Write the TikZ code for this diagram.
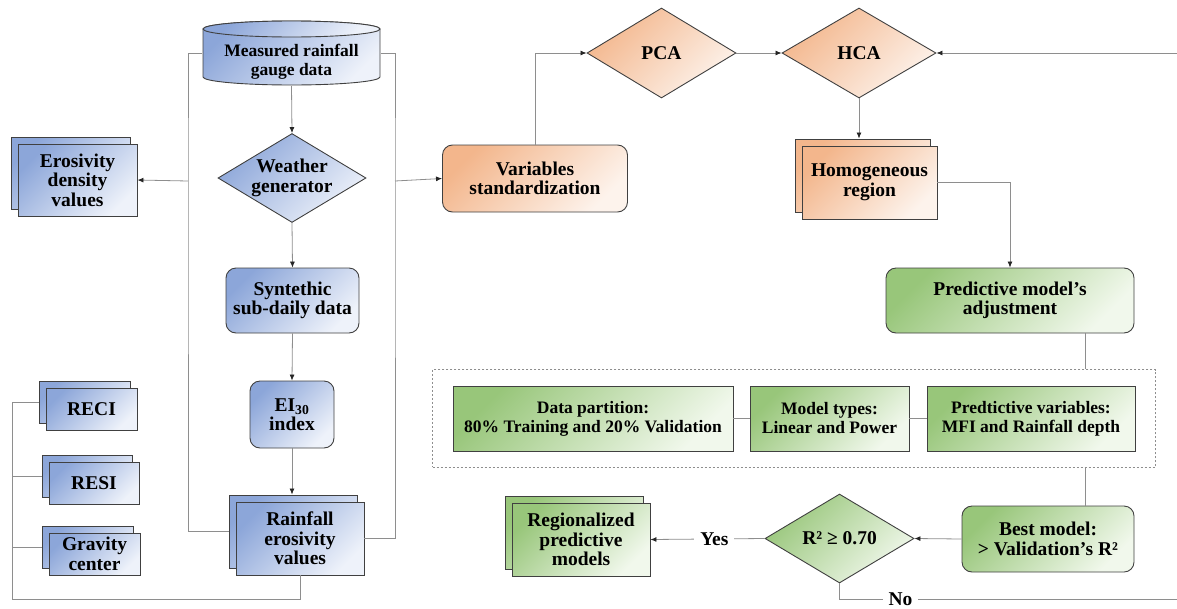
\documentclass[tikz,border=0pt]{standalone}
\usepackage{fontspec}
\setmainfont{Liberation Serif}
\usetikzlibrary{shapes.geometric,arrows.meta,shadows,fit}

\definecolor{edge}{HTML}{404040}
\definecolor{linkgray}{HTML}{8E8E8E}
\definecolor{blueA}{HTML}{8CA6D9}
\definecolor{blueB}{HTML}{EEF2FA}
\definecolor{orangeA}{HTML}{F3B68C}
\definecolor{orangeB}{HTML}{FDF3EC}
\definecolor{greenA}{HTML}{98C67A}
\definecolor{greenB}{HTML}{F1F8EC}

\tikzset{
  txt/.style={font=\fontsize{19.5}{19.5}\selectfont\bfseries, align=center, inner sep=0pt},
  small/.style={font=\fontsize{17.5}{19}\selectfont\bfseries},
  blk/.style={txt, draw=edge, line width=0.9pt},
  blues/.style={top color=blueA, bottom color=blueB, shading angle=45},
  oranges/.style={top color=orangeA, bottom color=orangeB, shading angle=45},
  greens/.style={top color=greenA, bottom color=greenB, shading angle=45},
  twin/.style={general shadow={shadow xshift=-7pt, shadow yshift=7pt, draw=edge, line width=0.9pt, #1}},
  drum/.style={path picture={
    \path[blues, draw=edge, line width=0.9pt]
      ([shift={(1,9)}]path picture bounding box.north west) -- ([shift={(1,-9)}]path picture bounding box.south west)
      arc[start angle=180, end angle=360, x radius=88.5pt, y radius=8pt]
      -- ([shift={(-1,9)}]path picture bounding box.north east)
      arc[start angle=0, end angle=180, x radius=88.5pt, y radius=8pt] -- cycle;
    \path[blues, draw=edge, line width=0.9pt] ([shift={(0,9)}]path picture bounding box.north) ellipse[x radius=88.5pt, y radius=8pt];
  }},
  link/.style={draw=linkgray, line width=0.8pt},
  arr/.style={link, -{Latex[length=6pt, width=5pt, color=black!85]}},
  lbl/.style={txt, fill=white, inner xsep=6pt}
}

\begin{document}
\begin{tikzpicture}[x=1pt,y=-1pt]
  \useasboundingbox (0,0) rectangle (1177,608);

  % rainfall data
  \node[txt, small, drum, minimum width=179, minimum height=66] (gauge) at (291.5,53) {\rule{0pt}{30pt}Measured rainfall\\gauge data};
  \node[blk, blues, diamond, aspect=1.66, minimum width=148, minimum height=89] (wgen) at (292,178) {Weather\\generator};
  \node[blk, blues, rounded corners=10, minimum width=133, minimum height=65] (synt) at (292.5,300.5) {Syntethic\\sub-daily data};
  \node[blk, blues, rounded corners=10, minimum width=84, minimum height=67] (ei) at (292,414.5) {EI\textsubscript{30}\\index};
  \node[blk, blues, twin=blues, minimum width=128, minimum height=73] (rain) at (300,538.5) {Rainfall\\erosivity\\values};
  \node[blk, blues, twin=blues, minimum width=119, minimum height=72] (eros) at (77.5,180) {Erosivity\\density\\values};
  \node[blk, blues, twin=blues, minimum width=91, minimum height=42] (reci) at (91.5,409) {RECI};
  \node[blk, blues, twin=blues, minimum width=90, minimum height=42] (resi) at (94,483) {RESI};
  \node[blk, blues, twin=blues, minimum width=91, minimum height=42] (grav) at (94.5,554) {Gravity\\center};

  % regionalization
  \node[blk, oranges, rounded corners=10, minimum width=185, minimum height=67] (stdz) at (535,178.5) {Variables\\standardization};
  \node[blk, oranges, diamond, aspect=1.66, minimum width=149, minimum height=90] (pca) at (661.5,53) {PCA};
  \node[blk, oranges, diamond, aspect=1.71, minimum width=154, minimum height=90] (hca) at (859,53) {HCA};
  \node[blk, oranges, twin=oranges, minimum width=135, minimum height=73] (homog) at (869.5,182.5) {Homogeneous\\region};

  % predictive models
  \node[blk, greens, rounded corners=10, minimum width=248, minimum height=65] (adjust) at (1010,300.5) {Predictive model's\\adjustment};
  \node[blk, greens, small, minimum width=280, minimum height=65] (part) at (593,418.5) {Data partition:\\80\% Training and 20\% Validation};
  \node[blk, greens, small, minimum width=159, minimum height=65] (types) at (829.5,418.5) {Model types:\\Linear and Power};
  \node[blk, greens, small, minimum width=208, minimum height=65] (vars) at (1031,418.5) {Predtictive variables:\\MFI and Rainfall depth};
  \node[draw=linkgray, dash pattern=on 2.5pt off 1.5pt, line width=0.9pt, inner xsep=20, inner ysep=16, fit=(part)(types)(vars)] (grp) {};
  \node[blk, greens, rounded corners=10, minimum width=172, minimum height=66] (best) at (1048,539) {Best model:\\> Validation's R²};
  \node[blk, greens, diamond, aspect=1.67, minimum width=149, minimum height=89] (rsq) at (839.5,538.5) {R² ≥ 0.70};
  \node[blk, greens, twin=greens, minimum width=138, minimum height=73] (regio) at (581,539.5) {Regionalized\\predictive\\models};

  \coordinate (lbus) at (188,181);
  \coordinate (rbus) at (395,181);
  \coordinate (loop) at (12,599);
  \coordinate (vx) at (1085,0);
  \coordinate (se) at (1178,599);
  \coordinate (ne) at (1178,53);

  % connectors
  \draw[arr] (gauge.south) -- (wgen.north);
  \draw[arr] (wgen.south) -- (synt.north);
  \draw[arr] (synt.south) -- (ei.north);
  \draw[arr, shorten >=7pt] (ei.south) -- (ei.south |- rain.north);
  \draw[link] (gauge.west) -| (lbus) |- ([shift={(-7,-7)}]rain.west);
  \draw[arr] (lbus) -- (eros.east);
  \draw[link] (gauge.east) -| (rbus) |- (rain.east);
  \draw[arr] (rbus) -- (stdz.west);
  \draw[link] (rain.south) |- (loop) |- ([shift={(-7,-7)}]reci.west);
  \draw[link] ([shift={(-7,-7)}]resi.west) -| (loop);
  \draw[link] ([shift={(-7,-7)}]grav.west) -| (loop);

  \draw[arr] (stdz.north) |- (pca.west);
  \draw[arr] (pca.east) -- (hca.west);
  \draw[arr, shorten >=7pt] (hca.south) -- (hca.south |- homog.north);
  \draw[arr] (homog.east) -| (adjust.north);
  \draw[link] (adjust.south -| vx) -- (grp.north -| vx);
  \draw[link] (part) -- (types);
  \draw[link] (types) -- (vars);
  \draw[link] (grp.south -| vx) -- (best.north -| vx);
  \draw[arr] (best.west) -- (rsq.east);
  \draw[arr] (rsq.west) -- node[lbl, pos=0.44] {Yes} (regio.east);
  \draw[arr] (rsq.south) |- node[lbl, pos=0.59] {No} (se) -- (ne) -- (hca.east);
\end{tikzpicture}
\end{document}
